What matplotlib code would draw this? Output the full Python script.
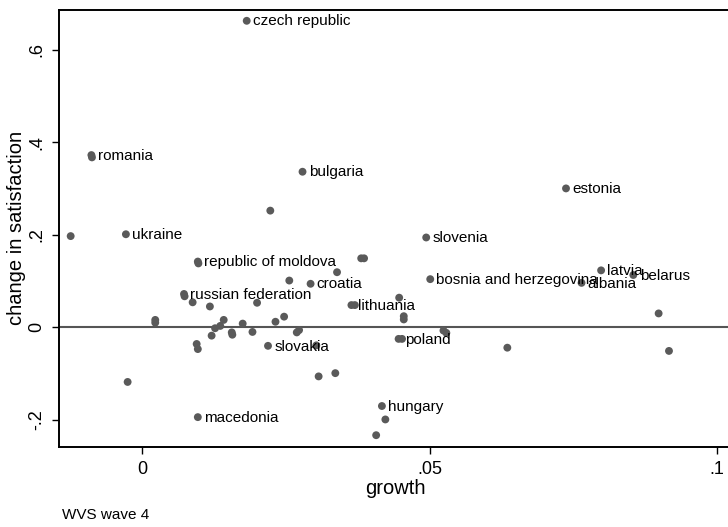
import matplotlib
matplotlib.use('agg')
import matplotlib.pyplot as plt

# country labels (empty = unlabeled point)
labels = [
    'czech republic', 'romania', '', 'bulgaria', 'estonia', 'latvia', 'albania',
    'belarus', 'bosnia and herzegovina', '', 'ukraine', '', 'republic of moldova',
    '', '', 'russian federation', '', '', '', '', '', '', '', '', '', '', '', '',
    '', '', '', '', '', '', '', '', 'slovakia', 'croatia', '', '', '', 'slovenia',
    'lithuania', '', '', '', '', 'poland', '', '', '', '', '', 'macedonia', '',
    '', 'hungary', '', '', '', '', '', '',
]
growth = [
    0.0182, -0.0088, -0.0087, 0.0279, 0.0737, 0.0798, 0.0764,
    0.0854, 0.0501, -0.0124, -0.0028, 0.0223, 0.0097,
    0.0098, 0.0256, 0.0073, 0.0074, 0.0088, 0.0118, 0.0200, 0.0023, 0.0023,
    0.0142, 0.0247, 0.0232, 0.0175, 0.0127, 0.0136, 0.0121, 0.0156, 0.0157,
    0.0192, 0.0269, 0.0273, 0.0095, 0.0097, 0.0219, 0.0293, 0.0339, 0.0381,
    0.0386, 0.0494, 0.0364, 0.0370, 0.0447, 0.0455, 0.0455, 0.0446, 0.0452,
    0.0524, 0.0529, 0.0303, -0.0025, 0.0097, 0.0307, 0.0336, 0.0417, 0.0423,
    0.0407, 0.0635, 0.0898, 0.0916,
]
change = [
    0.662, 0.372, 0.367, 0.336, 0.300, 0.123, 0.096,
    0.113, 0.104, 0.197, 0.201, 0.252, 0.142,
    0.138, 0.101, 0.072, 0.067, 0.054, 0.045, 0.053, 0.016, 0.010,
    0.016, 0.023, 0.012, 0.008, -0.002, 0.003, -0.018, -0.011, -0.016,
    -0.010, -0.011, -0.006, -0.036, -0.047, -0.040, 0.094, 0.119, 0.149,
    0.149, 0.194, 0.048, 0.048, 0.064, 0.024, 0.017, -0.025, -0.025,
    -0.007, -0.012, -0.039, -0.118, -0.194, -0.106, -0.099, -0.170, -0.199,
    -0.233, -0.044, 0.030, -0.051,
]

plt.rcParams['font.family'] = ['Liberation Sans', 'DejaVu Sans']

fig = plt.figure(figsize=(7.28, 5.27), dpi=100)
ax = fig.add_axes([59 / 728, 80 / 527, 672 / 728, 437.5 / 527])

dot = '#5a5a5a'
ax.axhline(0, color='#555555', lw=1.5, zorder=1)
ax.scatter(growth, change, s=32, color=dot, edgecolors='none', zorder=3)

for name, gx, cy in zip(labels, growth, change):
    if name:
        ax.annotate(name, (gx, cy), xytext=(4.5, -0.5), textcoords='offset points',
                    va='center', ha='left', fontsize=11, color='black', zorder=4)

ax.set_xlim(-0.01443, 0.10238)
ax.set_ylim(-0.2585, 0.6864)

ax.set_xticks([0, 0.05, 0.1])
ax.set_xticklabels(['0', '.05', '.1'], fontsize=13)
ax.set_yticks([-0.2, 0, 0.2, 0.4, 0.6])
ax.set_yticklabels(['-.2', '0', '.2', '.4', '.6'], fontsize=13, rotation=90, va='center')
ax.tick_params(direction='out', length=5, width=1, pad=5)

ax.spines['right'].set_visible(False)
for s in ['left', 'top', 'bottom']:
    ax.spines[s].set_linewidth(1.4)

ax.set_xlabel('growth', fontsize=14.5, labelpad=1)
ax.set_ylabel('change in satisfaction', fontsize=14.5, labelpad=1.5)

fig.text(62 / 728, 1 - 515 / 527, 'WVS wave 4', fontsize=11, va='center', ha='left')

fig.savefig('out.png', dpi=100)
